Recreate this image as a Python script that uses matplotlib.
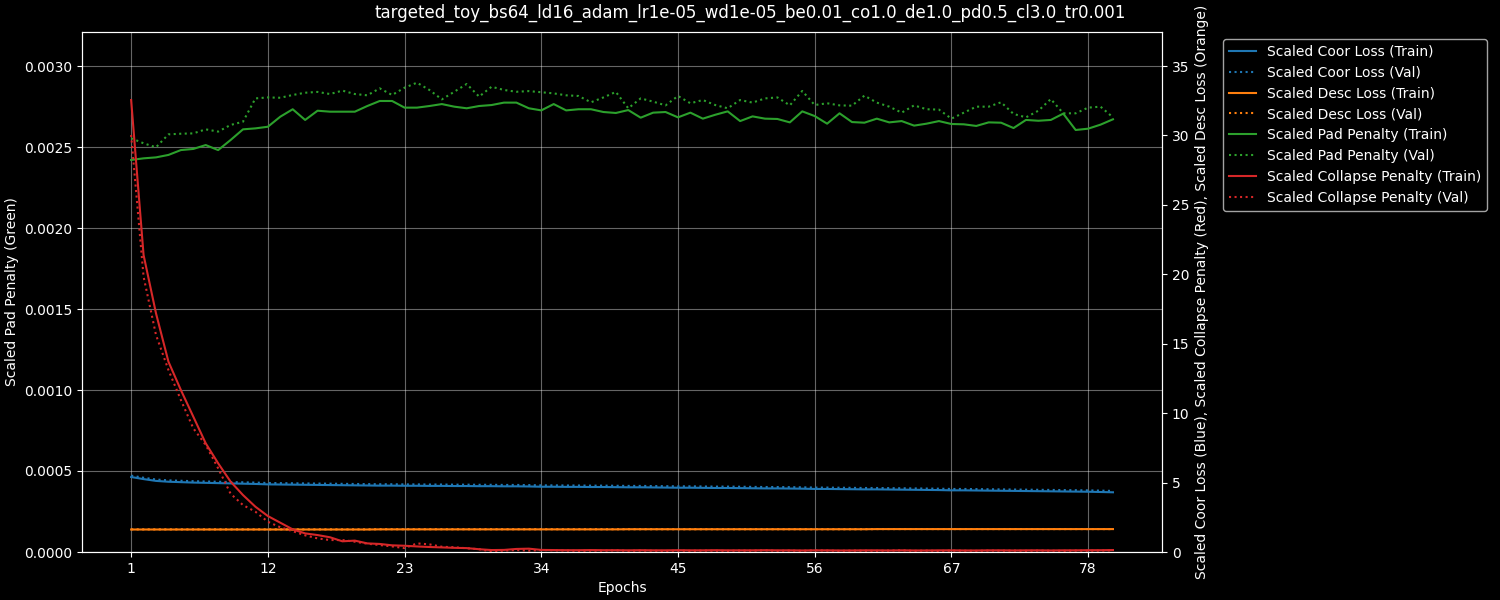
import matplotlib
matplotlib.use("Agg")
import matplotlib.pyplot as plt
import numpy as np

plt.style.use("dark_background")

epochs = list(range(1, 81))

coor_train = [5.40, 5.25, 5.12, 5.06, 5.03, 5.00, 4.98, 4.96, 4.94, 4.92, 4.90, 4.87, 4.86, 4.85,
              4.84, 4.83, 4.82, 4.81, 4.80, 4.79, 4.78, 4.78, 4.77, 4.77, 4.76, 4.76, 4.75, 4.75,
              4.74, 4.74, 4.73, 4.73, 4.72, 4.70, 4.70, 4.69, 4.69, 4.68, 4.68, 4.67, 4.66, 4.66,
              4.65, 4.64, 4.63, 4.63, 4.62, 4.61, 4.61, 4.60, 4.59, 4.58, 4.58, 4.57, 4.56, 4.54,
              4.54, 4.53, 4.52, 4.51, 4.51, 4.50, 4.49, 4.48, 4.47, 4.46, 4.44, 4.44, 4.43, 4.42,
              4.41, 4.40, 4.39, 4.38, 4.37, 4.36, 4.35, 4.34, 4.32, 4.30]
coor_val = [v + 0.10 for v in coor_train]

desc_train = [1.62] * 20 + [1.63] * 20 + [1.64] * 20 + [1.65] * 20
desc_val = [1.63] * 20 + [1.64] * 20 + [1.64] * 20 + [1.65] * 20

pad_train = [0.002420, 0.002430, 0.002436, 0.002451, 0.002481, 0.002488, 0.002512, 0.002481,
             0.002543, 0.002609, 0.002615, 0.002625, 0.002687, 0.002733, 0.002667, 0.002724,
             0.002718, 0.002718, 0.002718, 0.002753, 0.002784, 0.002784, 0.002743, 0.002743,
             0.002753, 0.002765, 0.002749, 0.002739, 0.002753, 0.002759, 0.002774, 0.002774,
             0.002739, 0.002726, 0.002765, 0.002726, 0.002733, 0.002733, 0.002716, 0.002710,
             0.002728, 0.002681, 0.002712, 0.002716, 0.002683, 0.002712, 0.002675, 0.002699,
             0.002720, 0.002660, 0.002689, 0.002675, 0.002673, 0.002652, 0.002720, 0.002691,
             0.002644, 0.002708, 0.002654, 0.002650, 0.002675, 0.002652, 0.002660, 0.002632,
             0.002644, 0.002660, 0.002642, 0.002640, 0.002630, 0.002652, 0.002650, 0.002617,
             0.002667, 0.002662, 0.002667, 0.002706, 0.002605, 0.002613, 0.002638, 0.002671]
pad_val = [0.002554, 0.002523, 0.002498, 0.002578, 0.002582, 0.002584, 0.002609, 0.002595,
           0.002636, 0.002656, 0.002800, 0.002806, 0.002804, 0.002821, 0.002835, 0.002840,
           0.002827, 0.002848, 0.002827, 0.002819, 0.002862, 0.002821, 0.002866, 0.002897,
           0.002852, 0.002794, 0.002841, 0.002889, 0.002811, 0.002872, 0.002852, 0.002841,
           0.002845, 0.002838, 0.002831, 0.002819, 0.002815, 0.002776, 0.002806, 0.002840,
           0.002739, 0.002800, 0.002780, 0.002757, 0.002815, 0.002770, 0.002790, 0.002759,
           0.002739, 0.002790, 0.002774, 0.002800, 0.002806, 0.002757, 0.002846, 0.002759,
           0.002770, 0.002757, 0.002755, 0.002817, 0.002774, 0.002749, 0.002712, 0.002757,
           0.002733, 0.002731, 0.002675, 0.002712, 0.002749, 0.002749, 0.002776, 0.002704,
           0.002683, 0.002724, 0.002796, 0.002708, 0.002708, 0.002743, 0.002749, 0.002683]

collapse_train = [32.55, 21.39, 17.19, 13.71, 11.67, 9.75, 7.83, 6.39, 5.07, 4.10,
                  3.26, 2.59, 2.11, 1.63, 1.34, 1.22, 1.06, 0.77, 0.82, 0.62,
                  0.58, 0.48, 0.45, 0.40, 0.36, 0.33, 0.30, 0.28, 0.20, 0.14,
                  0.15, 0.22, 0.24, 0.15, 0.14, 0.13, 0.13, 0.14, 0.13, 0.13,
                  0.12, 0.13, 0.12, 0.12, 0.13, 0.12, 0.12, 0.13, 0.12, 0.12,
                  0.12, 0.13, 0.12, 0.12, 0.11, 0.12, 0.12, 0.11, 0.11, 0.12,
                  0.12, 0.11, 0.12, 0.11, 0.11, 0.12, 0.12, 0.11, 0.11, 0.12,
                  0.12, 0.11, 0.12, 0.12, 0.11, 0.12, 0.12, 0.13, 0.13, 0.14]
collapse_val = [30.03, 19.83, 15.63, 13.11, 10.95, 8.91, 7.71, 6.03, 4.20, 3.38,
                2.90, 2.18, 1.78, 1.50, 1.20, 0.98, 0.86, 0.86, 0.74, 0.60,
                0.50, 0.40, 0.28, 0.62, 0.55, 0.38, 0.34, 0.27, 0.20, 0.04,
                0.10, 0.14, 0.10, 0.14, 0.12, 0.10, 0.08, 0.10, 0.09, 0.12,
                0.08, 0.10, 0.09, 0.07, 0.10, 0.08, 0.10, 0.09, 0.08, 0.10,
                0.09, 0.12, 0.08, 0.10, 0.08, 0.12, 0.10, 0.08, 0.10, 0.09,
                0.08, 0.10, 0.12, 0.08, 0.10, 0.07, 0.10, 0.09, 0.08, 0.10,
                0.09, 0.10, 0.08, 0.10, 0.09, 0.08, 0.10, 0.09, 0.10, 0.12]

xtick_vals = [1, 12, 23, 34, 45, 56, 67, 78]

fig, ax1 = plt.subplots(figsize=(15, 6), dpi=100)
fig.subplots_adjust(left=0.0547, right=0.7747, top=0.9467, bottom=0.08)
ax2 = ax1.twinx()

l5, = ax1.plot(epochs, pad_train, color="#2ca02c", linestyle="-", label="Scaled Pad Penalty (Train)")
l6, = ax1.plot(epochs, pad_val, color="#2ca02c", linestyle=":", label="Scaled Pad Penalty (Val)")

l1, = ax2.plot(epochs, coor_train, color="#1f77b4", linestyle="-", label="Scaled Coor Loss (Train)")
l2, = ax2.plot(epochs, coor_val, color="#1f77b4", linestyle=":", label="Scaled Coor Loss (Val)")
l3, = ax2.plot(epochs, desc_train, color="#ff7f0e", linestyle="-", label="Scaled Desc Loss (Train)")
l4, = ax2.plot(epochs, desc_val, color="#ff7f0e", linestyle=":", label="Scaled Desc Loss (Val)")
l7, = ax2.plot(epochs, collapse_train, color="#d62728", linestyle="-", label="Scaled Collapse Penalty (Train)")
l8, = ax2.plot(epochs, collapse_val, color="#d62728", linestyle=":", label="Scaled Collapse Penalty (Val)")

ax1.set_ylim(0, 0.00321)
ax2.set_ylim(0, 37.45)
ax1.set_xticks(xtick_vals)
ax1.grid(True, alpha=0.4)

ax1.set_xlabel("Epochs")
ax1.set_ylabel("Scaled Pad Penalty (Green)")
ax2.set_ylabel("Scaled Coor Loss (Blue), Scaled Collapse Penalty (Red), Scaled Desc Loss (Orange)")
fig.suptitle("targeted_toy_bs64_ld16_adam_lr1e-05_wd1e-05_be0.01_co1.0_de1.0_pd0.5_cl3.0_tr0.001",
             fontsize=12, y=0.993)

handles = [l1, l2, l3, l4, l5, l6, l7, l8]
ax1.legend(handles, [h.get_label() for h in handles], loc="upper left", bbox_to_anchor=(1.05, 1))

fig.savefig("out.png", dpi=100)
